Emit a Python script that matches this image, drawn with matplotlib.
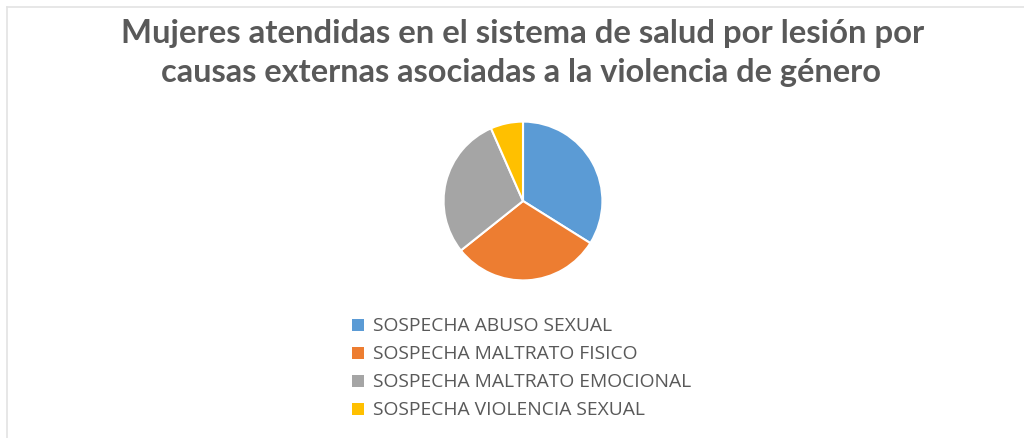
import matplotlib
matplotlib.use("Agg")
import matplotlib.pyplot as plt
from matplotlib.patches import Rectangle
from matplotlib.lines import Line2D

title_lines = ["Mujeres atendidas en el sistema de salud por lesión por",
               "causas externas asociadas a la violencia de género"]
categories = ["SOSPECHA ABUSO SEXUAL", "SOSPECHA MALTRATO FISICO",
              "SOSPECHA MALTRATO EMOCIONAL", "SOSPECHA VIOLENCIA SEXUAL"]
values = [33.9, 30.4, 29.1, 6.6]
colors = ["#5B9BD5", "#ED7D31", "#A5A5A5", "#FFC000"]

W, H = 1024, 439
fig = plt.figure(figsize=(W / 100, H / 100), dpi=100)
fig.patch.set_facecolor("white")
renderer = fig.canvas.get_renderer()

def px(x, y):
    return x / W, 1 - y / H

# chart frame (top and left visible)
fig.add_artist(Line2D([7 / W, 7 / W], [0, 1 - 8 / H], color="#e3e3e3", lw=1.2))
fig.add_artist(Line2D([7 / W, 1], [1 - 8 / H, 1 - 8 / H], color="#e3e3e3", lw=1.2))

def fit_text(x, y, s, target_w, family, weight, **kw):
    t = fig.text(*px(x, y), s, family=family, fontweight=weight, fontsize=20, **kw)
    w = t.get_window_extent(renderer).width
    t.set_fontsize(20 * target_w / w)
    return t

# title
fit_text(523, 43, title_lines[0], 804, "Lato", "bold", ha="center", va="baseline",
         color="#595959")
fit_text(521, 82, title_lines[1], 722, "Lato", "bold", ha="center", va="baseline",
         color="#595959")

# pie
cx, cy, r = 523, 202, 81
ax = fig.add_axes([(cx - r) / W, (H - cy - r) / H, 2 * r / W, 2 * r / H])
ax.pie(values, colors=colors, startangle=90, counterclock=False, radius=1,
       wedgeprops=dict(edgecolor="white", linewidth=1.5))
ax.set_xlim(-1.02, 1.02)
ax.set_ylim(-1.02, 1.02)
ax.set_aspect("equal")
ax.axis("off")

# legend
leg_size = None
for i, (cat, c) in enumerate(zip(categories, colors)):
    yc = 326 + 28 * i
    fig.add_artist(Rectangle(px(352, yc + 6), 12 / W, 12 / H, facecolor=c,
                             edgecolor="none", transform=fig.transFigure))
    if leg_size is None:
        t = fit_text(373, yc, cat, 239, "Open Sans", "normal", ha="left",
                     va="center", color="#595959")
        leg_size = t.get_fontsize()
    else:
        fig.text(*px(373, yc), cat, family="Open Sans", fontsize=leg_size,
                 ha="left", va="center", color="#595959")

fig.savefig("out.png", dpi=100, facecolor="white")
